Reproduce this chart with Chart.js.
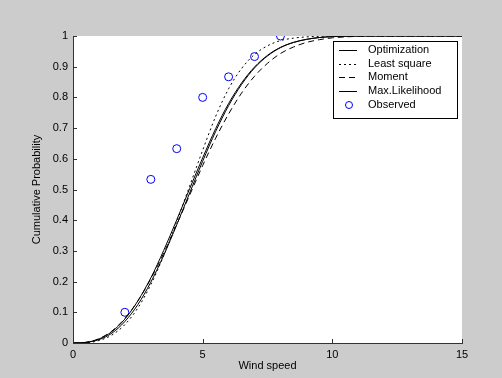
<!DOCTYPE html>
<html>
<head>
<meta charset="utf-8">
<script src="https://cdn.jsdelivr.net/npm/chart.js@4"></script>
<style>
html,body{margin:0;padding:0;background:#cccccc;}
canvas{display:block;}
</style>
</head>
<body>
<canvas id="c" width="502" height="378"></canvas>
<script>
// ---- data ----
const windSpeed = [0,0.5,1,1.5,2,2.5,3,3.5,4,4.5,5,5.5,6,6.5,7,7.5,8,8.5,9,9.5,10,10.5,11,11.5,12,13,14,15];
const optimization  = [0,0.002,0.013,0.037,0.078,0.137,0.212,0.302,0.401,0.503,0.603,0.698,0.780,0.847,0.899,0.937,0.963,0.979,0.989,0.995,0.998,0.999,1,1,1,1,1,1];
const leastSquare   = [0,0.001,0.008,0.026,0.060,0.114,0.190,0.285,0.395,0.512,0.628,0.738,0.828,0.894,0.940,0.968,0.985,0.993,0.997,0.999,1,1,1,1,1,1,1,1];
const moment        = [0,0.002,0.014,0.039,0.080,0.137,0.209,0.293,0.386,0.482,0.578,0.667,0.746,0.814,0.869,0.911,0.943,0.964,0.979,0.988,0.994,0.997,0.999,1,1,1,1,1];
const maxLikelihood = [0,0.002,0.011,0.032,0.070,0.125,0.198,0.286,0.385,0.489,0.592,0.689,0.773,0.842,0.896,0.935,0.962,0.979,0.989,0.995,0.998,0.999,1,1,1,1,1,1];
const observedX = [2,3,4,5,6,7,8];
const observedY = [0.1,0.533,0.633,0.8,0.867,0.933,1.0];
const xTicks = [0,5,10,15];
const yTicks = [0,0.1,0.2,0.3,0.4,0.5,0.6,0.7,0.8,0.9,1];
const seriesNames = ['Optimization','Least square','Moment','Max.Likelihood','Observed'];

const pts = arr => windSpeed.map((x,i)=>({x:x,y:arr[i]}));
const FONT = '"Liberation Sans", Arial, sans-serif';

function lineDs(label, arr, dash){
  return {label, data: pts(arr), showLine:true, borderColor:'#000', borderWidth:1,
    borderDash:dash, pointRadius:0, cubicInterpolationMode:'monotone', fill:false};
}

const bgPlugin = {
  id:'bg',
  beforeDraw(chart){
    const {ctx, chartArea:a} = chart;
    ctx.save();
    ctx.fillStyle='#cccccc';
    ctx.fillRect(0,0,chart.width,chart.height);
    ctx.fillStyle='#ffffff';
    ctx.fillRect(a.left,a.top,a.right-a.left,a.bottom-a.top);
    ctx.restore();
  }
};

const decoPlugin = {
  id:'deco',
  afterDraw(chart){
    const {ctx, chartArea:a, scales} = chart;
    ctx.save();
    // inner ticks
    ctx.strokeStyle='#333'; ctx.lineWidth=1;
    ctx.beginPath();
    xTicks.forEach(v=>{
      const px=Math.round(scales.x.getPixelForValue(v))+0.5;
      ctx.moveTo(px,a.bottom); ctx.lineTo(px,a.bottom-4);
    });
    yTicks.forEach(v=>{
      const py=Math.round(scales.y.getPixelForValue(v))+0.5;
      ctx.moveTo(a.left,py); ctx.lineTo(a.left+4,py);
    });
    ctx.stroke();
    // axis titles
    ctx.fillStyle='#000';
    ctx.font='11px '+FONT;
    ctx.textAlign='center'; ctx.textBaseline='middle';
    ctx.fillText('Wind speed',(a.left+a.right)/2,366);
    ctx.save();
    ctx.translate(37,(a.top+a.bottom)/2);
    ctx.rotate(-Math.PI/2);
    ctx.fillText('Cumulative Probability',0,0);
    ctx.restore();
    // legend
    const bx=333.5, by=41.5, bw=124, bh=77;
    ctx.fillStyle='#fff'; ctx.fillRect(bx,by,bw,bh);
    ctx.strokeStyle='#000'; ctx.strokeRect(bx,by,bw,bh);
    const rows=[50,63.5,77,91,105];
    const dashes=[[],[2,3],[6,4],[]];
    ctx.textAlign='left'; ctx.textBaseline='middle';
    seriesNames.forEach((name,i)=>{
      const y=rows[i];
      if(i<4){
        ctx.setLineDash(dashes[i]);
        ctx.strokeStyle='#000';
        ctx.beginPath(); ctx.moveTo(339,Math.round(y)+0.5); ctx.lineTo(357,Math.round(y)+0.5); ctx.stroke();
        ctx.setLineDash([]);
      } else {
        ctx.strokeStyle='#0000ff';
        ctx.beginPath(); ctx.arc(349,y,3.5,0,Math.PI*2); ctx.stroke();
      }
      ctx.fillStyle='#000';
      ctx.fillText(name,368,y);
    });
    ctx.restore();
  }
};

new Chart(document.getElementById('c'),{
  type:'scatter',
  data:{datasets:[
    lineDs(seriesNames[0], optimization, []),
    lineDs(seriesNames[1], leastSquare, [2,3]),
    lineDs(seriesNames[2], moment, [6,4]),
    lineDs(seriesNames[3], maxLikelihood, []),
    {label:seriesNames[4], data:observedX.map((x,i)=>({x:x,y:observedY[i]})), showLine:false,
     pointRadius:4, pointBorderColor:'#0000ff', pointBackgroundColor:'rgba(0,0,0,0)', pointBorderWidth:1}
  ]},
  options:{
    responsive:false, animation:false,
    layout:{padding:{left:0,top:36,right:40,bottom:0}},
    plugins:{legend:{display:false}, tooltip:{enabled:false}},
    scales:{
      x:{type:'linear', min:0, max:15,
        afterBuildTicks: s=>{ s.ticks = xTicks.map(v=>({value:v})); },
        afterFit: s=>{ s.height = 35; },
        grid:{display:true, drawOnChartArea:false, drawTicks:false},
        border:{display:true, color:'#333', width:1},
        ticks:{color:'#000', font:{family:FONT,size:11}, padding:5, maxRotation:0,
          callback:v=>String(v)}
      },
      y:{type:'linear', min:0, max:1,
        afterBuildTicks: s=>{ s.ticks = yTicks.map(v=>({value:v})); },
        afterFit: s=>{ s.width = 73; },
        grid:{display:true, drawOnChartArea:false, drawTicks:false},
        border:{display:true, color:'#333', width:1},
        ticks:{color:'#000', font:{family:FONT,size:11}, padding:5,
          callback:v=>String(v)}
      }
    }
  },
  plugins:[bgPlugin, decoPlugin]
});
</script>
</body>
</html>
